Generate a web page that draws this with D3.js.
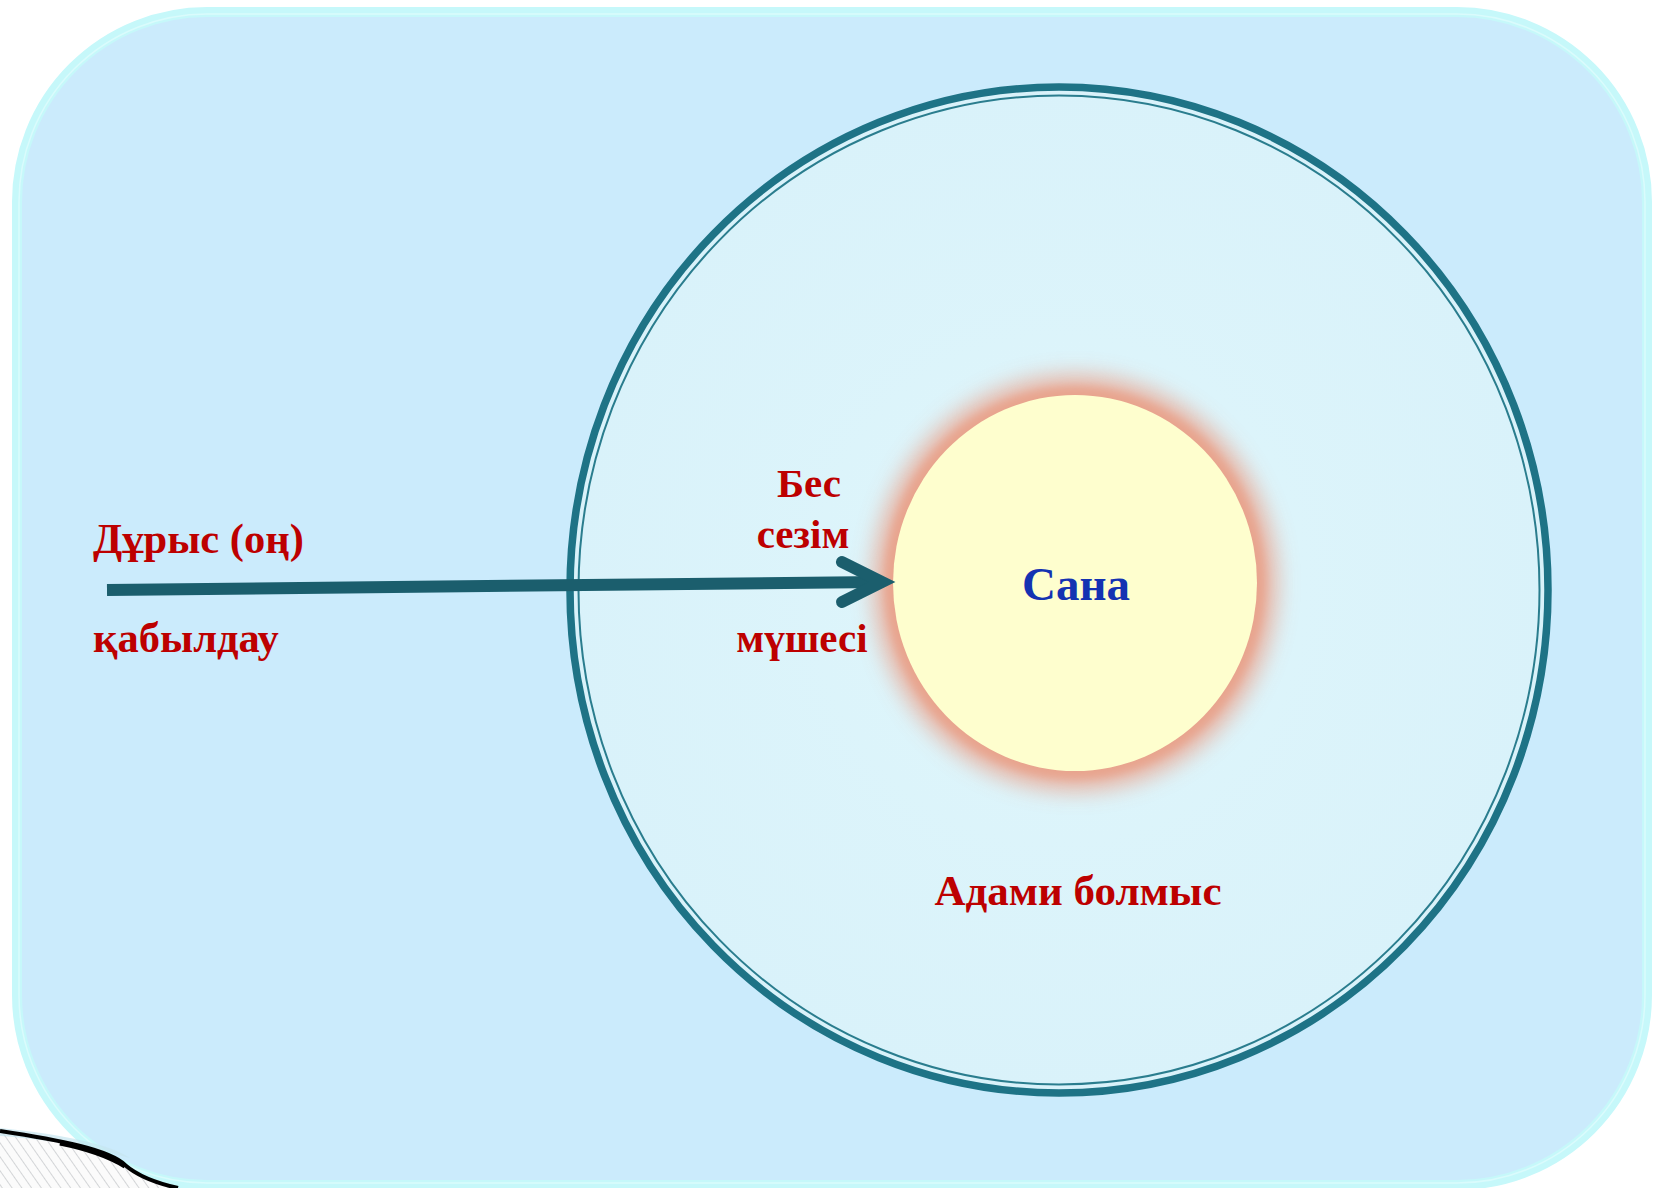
<!DOCTYPE html>
<html>
<head>
<meta charset="utf-8">
<script src="https://cdn.jsdelivr.net/npm/d3@7"></script>
<style>
  html, body { margin: 0; padding: 0; background: #fff; }
  text { font-family: "Liberation Serif", "Times New Roman", serif; font-weight: bold; }
</style>
</head>
<body>
<div class="canvas"></div>
<script>
// diagram labels
const leftLabels = ["Дұрыс (оң)", "қабылдау"];
const organLabels = ["Бес", "сезім", "мүшесі"];
const coreLabel = ["Сана"];
const outerLabel = ["Адами болмыс"];

const dims = { w: 1655, h: 1188 };

// the slide is drawn in its own pixel units, mapped via scales
const x = d3.scaleLinear().domain([0, dims.w]).range([0, dims.w]);
const y = d3.scaleLinear().domain([0, dims.h]).range([0, dims.h]);

const svg = d3
  .select(".canvas")
  .append("svg")
  .attr("width", dims.w)
  .attr("height", dims.h);

const defs = svg.append("defs");

const blur = (id, sd) =>
  defs.append("filter")
    .attr("id", id)
    .attr("x", "-30%").attr("y", "-30%")
    .attr("width", "160%").attr("height", "160%")
    .append("feGaussianBlur")
    .attr("stdDeviation", sd);
blur("glowWide", 11);
blur("glowNear", 4);

const hatch = defs.append("pattern")
  .attr("id", "hatch")
  .attr("patternUnits", "userSpaceOnUse")
  .attr("width", 8).attr("height", 8)
  .attr("patternTransform", "rotate(-35)");
hatch.append("rect").attr("width", 8).attr("height", 8).attr("fill", "#fbfbfb");
hatch.append("line")
  .attr("x1", 0).attr("y1", 0).attr("x2", 0).attr("y2", 8)
  .attr("stroke", "#b9bcbf").attr("stroke-width", 1.2);

const inner = defs.append("radialGradient").attr("id", "innerFill");
inner.append("stop").attr("offset", "0%").attr("stop-color", "#dff6fb");
inner.append("stop").attr("offset", "100%").attr("stop-color", "#d9f2fa");

// slide panel
svg.append("rect")
  .attr("x", x(17)).attr("y", y(12))
  .attr("width", x(1647) - x(17)).attr("height", y(1185) - y(12))
  .attr("rx", 190)
  .attr("fill", "#cbebfc")
  .attr("stroke", "#c6f8fa")
  .attr("stroke-width", 10);
svg.append("rect")
  .attr("x", x(19)).attr("y", y(14))
  .attr("width", x(1645) - x(19)).attr("height", y(1183) - y(14))
  .attr("rx", 188)
  .attr("fill", "none")
  .attr("stroke", "#dafbfc")
  .attr("stroke-width", 1.5);

// page curl, bottom left
svg.append("path")
  .attr("d", `M0,${y(1131)} C60,1140 110,1150 125,1165 C140,1178 160,1184 ${x(178)},${y(1188)} L0,${y(1188)} Z`)
  .attr("fill", "url(#hatch)");
svg.append("path")
  .attr("d", `M0,${y(1128)} C60,1134 110,1144 130,1158 L100,1150 C60,1142 30,1138 0,1136 Z`)
  .attr("fill", "#c6e6ef")
  .attr("opacity", 0.7);
svg.append("path")
  .attr("d", `M0,${y(1131)} C60,1140 110,1150 125,1165 C140,1178 160,1184 ${x(178)},${y(1188)}`)
  .attr("fill", "none")
  .attr("stroke", "#000")
  .attr("stroke-width", 4);
svg.append("path")
  .attr("d", `M60,1143 C95,1150 112,1158 125,1166`)
  .attr("fill", "none")
  .attr("stroke", "#000")
  .attr("stroke-width", 5);

// outer circle: human being
const big = { cx: 1059, cy: 590, rx: 489, ry: 503 };
svg.append("ellipse")
  .attr("cx", x(big.cx)).attr("cy", y(big.cy))
  .attr("rx", big.rx).attr("ry", big.ry)
  .attr("fill", "url(#innerFill)")
  .attr("stroke", "#1e7386")
  .attr("stroke-width", 7.5);
svg.append("ellipse")
  .attr("cx", x(big.cx)).attr("cy", y(big.cy))
  .attr("rx", big.rx - 8.5).attr("ry", big.ry - 8.5)
  .attr("fill", "none")
  .attr("stroke", "#2a7d8e")
  .attr("stroke-width", 2);

// core circle: consciousness
const core = { cx: 1075, cy: 583, rx: 182, ry: 188 };
svg.append("ellipse")
  .attr("cx", x(core.cx)).attr("cy", y(core.cy))
  .attr("rx", core.rx + 20).attr("ry", core.ry + 20)
  .attr("fill", "#eaa994")
  .attr("opacity", 0.85)
  .attr("filter", "url(#glowWide)");
svg.append("ellipse")
  .attr("cx", x(core.cx)).attr("cy", y(core.cy))
  .attr("rx", core.rx + 8).attr("ry", core.ry + 8)
  .attr("fill", "#e8a48e")
  .attr("filter", "url(#glowNear)");
svg.append("ellipse")
  .attr("cx", x(core.cx)).attr("cy", y(core.cy))
  .attr("rx", core.rx).attr("ry", core.ry)
  .attr("fill", "#fefece");

// arrow
const arrowColor = "#1b5e6d";
svg.append("line")
  .attr("x1", x(107)).attr("y1", y(590))
  .attr("x2", x(880)).attr("y2", y(582))
  .attr("stroke", arrowColor)
  .attr("stroke-width", 12);
svg.append("path")
  .attr("d", d3.line()([[x(842), y(562)], [x(882), y(582)], [x(842), y(602)]]))
  .attr("fill", "none")
  .attr("stroke", arrowColor)
  .attr("stroke-width", 12)
  .attr("stroke-linecap", "round")
  .attr("stroke-linejoin", "miter");

// labels
const red = "#bd0000";

svg.selectAll("text.left")
  .data(leftLabels)
  .enter()
  .append("text")
  .attr("class", "left")
  .attr("x", x(93))
  .attr("y", (d, i) => y(i === 0 ? 553 : 652))
  .attr("font-size", 42.5)
  .attr("fill", red)
  .text(d => d);

svg.selectAll("text.organ")
  .data(organLabels)
  .enter()
  .append("text")
  .attr("class", "organ")
  .attr("x", (d, i) => x([809, 803, 802][i]))
  .attr("y", (d, i) => y([497, 548, 652][i]))
  .attr("text-anchor", "middle")
  .attr("font-size", 41)
  .attr("fill", red)
  .text(d => d);

svg.selectAll("text.core")
  .data(coreLabel)
  .enter()
  .append("text")
  .attr("class", "core")
  .attr("x", x(1076))
  .attr("y", y(600))
  .attr("text-anchor", "middle")
  .attr("font-size", 47)
  .attr("fill", "#1432b2")
  .text(d => d);

svg.selectAll("text.outer")
  .data(outerLabel)
  .enter()
  .append("text")
  .attr("class", "outer")
  .attr("x", x(1078))
  .attr("y", y(905))
  .attr("text-anchor", "middle")
  .attr("font-size", 43)
  .attr("fill", red)
  .text(d => d);
</script>
</body>
</html>
